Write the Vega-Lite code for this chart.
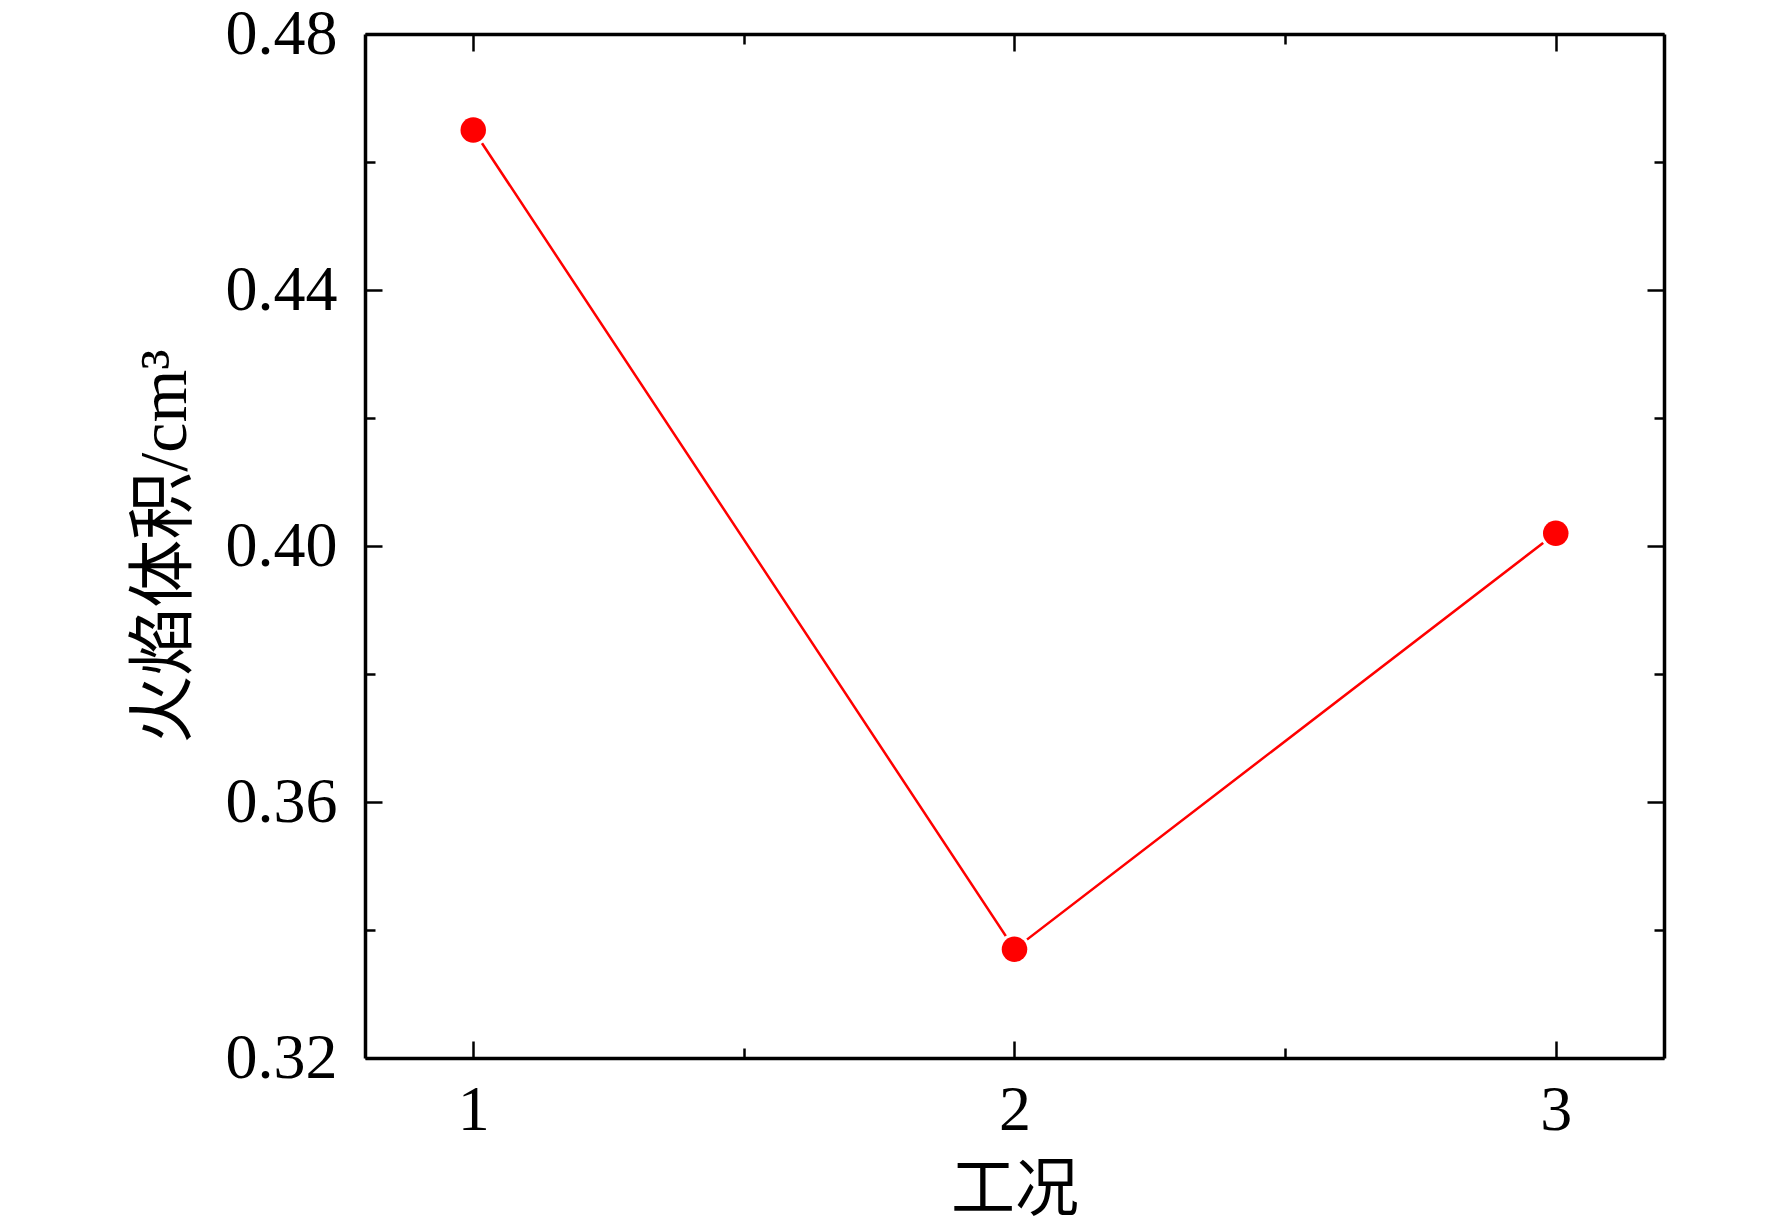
{
  "$schema": "https://vega.github.io/schema/vega-lite/v6.json",
  "width": 1299,
  "height": 1024,
  "autosize": {"type": "none"},
  "padding": {"left": 365, "top": 34, "right": 108, "bottom": 173},
  "background": "white",
  "config": {
    "view": {"stroke": null},
    "axis": {
      "domainColor": "black",
      "domainWidth": 3.5,
      "tickColor": "black",
      "tickWidth": 2.5,
      "labelFont": "Liberation Serif",
      "labelFontSize": 64,
      "labelColor": "black",
      "titleFont": "Liberation Serif, Noto Sans CJK SC",
      "titleFontSize": 64,
      "titleFontWeight": "normal",
      "titleColor": "black",
      "grid": false
    }
  },
  "data": {"values": [
    {"case": 1, "v": 0.465},
    {"case": 2, "v": 0.337},
    {"case": 3, "v": 0.402}
  ]},
  "encoding": {
    "x": {"field": "case", "type": "quantitative", "scale": {"domain": [0.8, 3.2], "nice": false, "zero": false}},
    "y": {"field": "v", "type": "quantitative", "scale": {"domain": [0.32, 0.48], "nice": false, "zero": false}}
  },
  "layer": [
    {
      "mark": {"type": "line", "color": "#ff0000", "strokeWidth": 2.5},
      "encoding": {
        "x": {"field": "case", "type": "quantitative", "axis": {
          "orient": "bottom", "title": "工况", "values": [1, 1.5, 2, 2.5, 3],
          "labelExpr": "datum.value % 1 == 0 ? format(datum.value, 'd') : ''",
          "tickSize": {"condition": {"test": "datum.value % 1 == 0", "value": -17}, "value": -10},
          "labelPadding": 37, "titlePadding": 16
        }},
        "y": {"field": "v", "type": "quantitative", "axis": {
          "orient": "left", "title": "火焰体积/cm³", "titleFontSize": 68, "values": [0.32, 0.34, 0.36, 0.38, 0.40, 0.42, 0.44, 0.46, 0.48],
          "labelExpr": "round(datum.value * 100) % 4 == 0 ? format(datum.value, '.2f') : ''",
          "tickSize": {"condition": {"test": "round(datum.value * 100) % 4 == 0", "value": -17}, "value": -10},
          "labelPadding": 45, "titlePadding": 26
        }}
      }
    },
    {
      "mark": {"type": "point", "filled": true, "shape": "circle", "color": "white", "opacity": 1, "size": 1018},
      "encoding": {
        "x": {"field": "case", "type": "quantitative", "axis": null},
        "y": {"field": "v", "type": "quantitative", "axis": null}
      }
    },
    {
      "mark": {"type": "point", "filled": true, "shape": "circle", "color": "#ff0000", "opacity": 1, "size": 650},
      "encoding": {
        "x": {"field": "case", "type": "quantitative", "axis": {
          "orient": "top", "title": null, "values": [1, 1.5, 2, 2.5, 3], "labels": false,
          "tickSize": {"condition": {"test": "datum.value % 1 == 0", "value": -17}, "value": -10}
        }},
        "y": {"field": "v", "type": "quantitative", "axis": {
          "orient": "right", "title": null, "values": [0.32, 0.34, 0.36, 0.38, 0.40, 0.42, 0.44, 0.46, 0.48], "labels": false,
          "tickSize": {"condition": {"test": "round(datum.value * 100) % 4 == 0", "value": -17}, "value": -10}
        }}
      }
    }
  ],
  "resolve": {"axis": {"x": "independent", "y": "independent"}}
}
